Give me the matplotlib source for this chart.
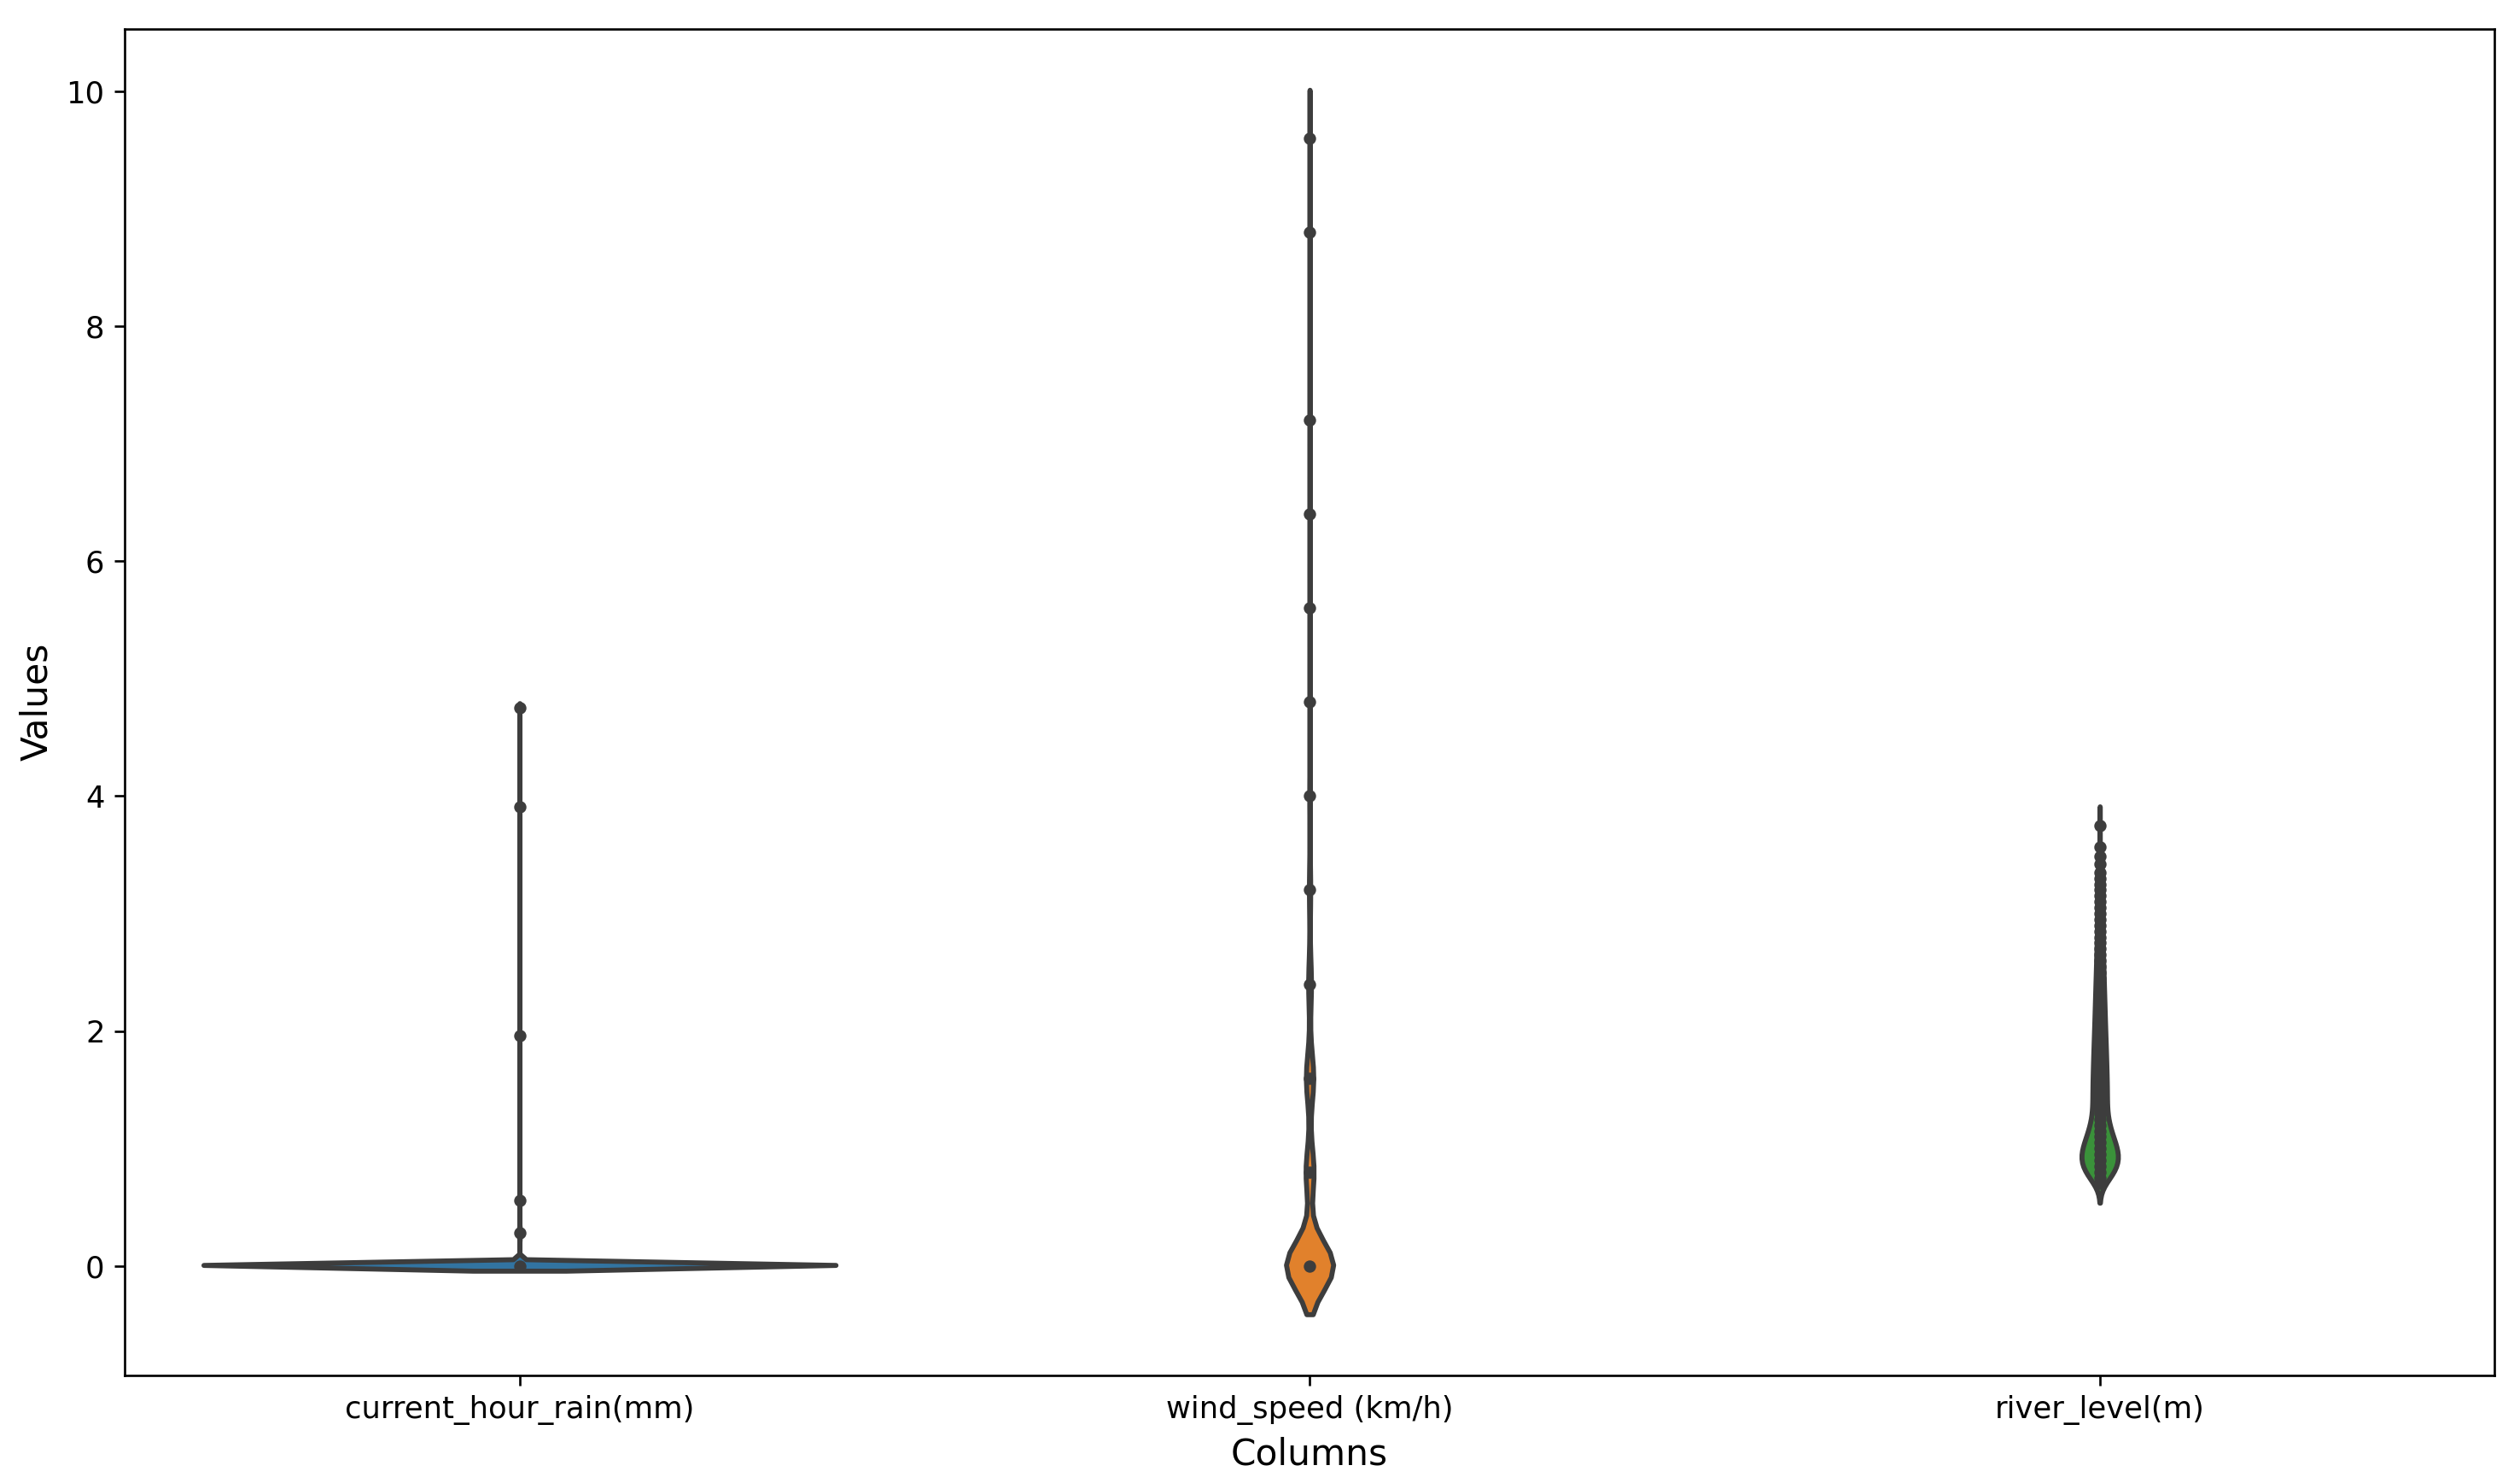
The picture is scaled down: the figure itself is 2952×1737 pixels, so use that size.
import numpy as np
import matplotlib
matplotlib.use("Agg")
import matplotlib.pyplot as plt

# column names shown on the x axis
columns = ["current_hour_rain(mm)", "wind_speed (km/h)", "river_level(m)"]

# rain: observed values and how often each occurs
rain_values = [0.0, 0.28, 0.56, 1.96, 3.91, 4.75]
rain_counts = [7952, 25, 12, 6, 3, 2]

# wind speed: observed values and counts
wind_values = [0.0, 0.8, 1.6, 2.4, 3.2, 4.0, 4.8, 5.6, 6.4, 7.2, 8.8, 9.6]
wind_counts = [2300, 390, 360, 135, 60, 30, 18, 12, 8, 4, 1, 1]

# river level: binned values and counts
river_values = [0.70, 0.75, 0.80, 0.85, 0.90, 0.95, 1.00, 1.05, 1.10, 1.15,
                1.20, 1.25, 1.30, 1.35, 1.40, 1.45, 1.50, 1.55, 1.60, 1.65,
                1.70, 1.75, 1.80, 1.85, 1.90, 1.95, 2.00, 2.05, 2.10, 2.15,
                2.20, 2.25, 2.30, 2.35, 2.40, 2.45, 2.50, 2.55, 2.60, 2.65,
                2.70, 2.75, 2.80, 2.85, 2.90, 2.95, 3.00, 3.05, 3.10, 3.15,
                3.20, 3.25, 3.30, 3.35, 3.42, 3.49, 3.57, 3.75]
river_counts = [500, 1100, 1600, 1900, 2000, 2000, 1840, 1600, 1360, 1160,
                1000, 820, 760, 740, 740, 740, 740, 730, 715, 700,
                685, 665, 650, 630, 610, 590, 570, 550, 530, 515,
                500, 480, 460, 445, 430, 410, 390, 375, 360, 340,
                320, 305, 285, 270, 250, 230, 210, 190, 165, 140,
                118, 90, 58, 28, 1, 1, 1, 1]

colors = ["#3274a1", "#e1812c", "#3a923a"]
gray = "#3d3d3d"


def kde(vals, cnts, cut=2, gridsize=100):
    vals = np.asarray(vals, float)
    w = np.asarray(cnts, float)
    n = w.sum()
    mean = np.sum(w * vals) / n
    std = np.sqrt(np.sum(w * (vals - mean) ** 2) / (n - 1))
    bw = std * n ** (-0.2)  # scott
    grid = np.linspace(vals.min() - cut * bw, vals.max() + cut * bw, gridsize)
    z = (grid[:, None] - vals[None, :]) / bw
    dens = (w[None, :] * np.exp(-0.5 * z ** 2)).sum(1) / (n * bw * np.sqrt(2 * np.pi))
    return grid, dens


data = [(rain_values, rain_counts), (wind_values, wind_counts),
        (river_values, river_counts)]
kdes = [kde(v, c) for v, c in data]
dmax = max(d.max() for _, d in kdes)

fig, ax = plt.subplots(figsize=(2952 / 240, 1737 / 240), dpi=240)
fig.subplots_adjust(left=0.0494, right=0.990, top=0.9807, bottom=0.0725)

for i, ((grid, dens), (vals, cnts)) in enumerate(zip(kdes, data)):
    half = dens / dmax * 0.4
    ax.fill_betweenx(grid, i - half, i + half, facecolor=colors[i],
                     edgecolor=gray, linewidth=1.75)
    ax.scatter(np.full(len(vals), i), vals, s=11, color=gray,
               edgecolor=gray, zorder=3)

ax.set_xlim(-0.5, 2.5)
ax.set_xticks(range(len(columns)))
ax.set_xticklabels(columns)
ax.tick_params(labelsize=10.6)
ax.set_xlabel("Columns", fontsize=12.7)
ax.set_ylabel("Values", fontsize=12.7)

fig.savefig("out.png", dpi=240)
